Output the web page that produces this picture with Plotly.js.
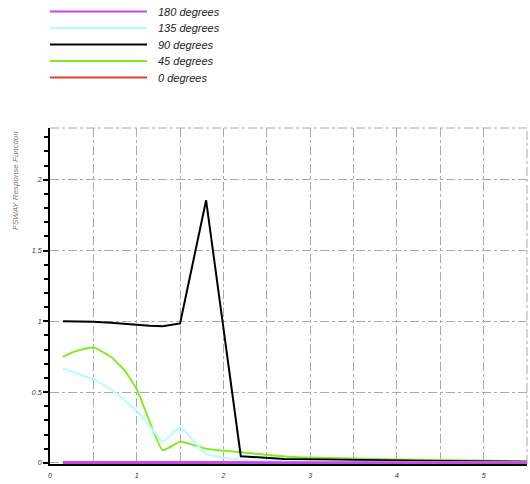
<!DOCTYPE html>
<html>
<head>
<meta charset="utf-8">
<script src="https://cdn.plot.ly/plotly-3.0.1.min.js"></script>
<style>html,body{margin:0;padding:0;background:#fff;}#chart{width:530px;height:484px;}</style>
</head>
<body>
<div id="chart"></div>
<script>
// Frequency points (x axis)
var freq = [0.15, 0.3, 0.5, 0.7, 0.85, 1.0, 1.15, 1.3, 1.5, 1.8, 2.2, 2.7, 3.5, 4.5, 5.5];
// Response per heading
var deg0   = [0, 0, 0, 0, 0, 0, 0, 0, 0, 0, 0, 0, 0, 0, 0];
var deg45  = [0.75, 0.79, 0.815, 0.75, 0.66, 0.52, 0.29, 0.09, 0.15, 0.10, 0.075, 0.045, 0.03, 0.02, 0.012];
var deg90  = [1.0, 0.999, 0.997, 0.99, 0.982, 0.975, 0.968, 0.965, 0.985, 1.855, 0.047, 0.028, 0.02, 0.013, 0.008];
var deg135 = [0.667, 0.635, 0.59, 0.52, 0.45, 0.368, 0.26, 0.15, 0.25, 0.063, 0.022, 0.012, 0.008, 0.005, 0.004];
var deg180 = [0, 0, 0, 0, 0, 0, 0, 0, 0, 0, 0, 0, 0, 0, 0];

var names  = ['0 degrees', '45 degrees', '90 degrees', '135 degrees', '180 degrees'];
var series = [deg0, deg45, deg90, deg135, deg180];
var colors = ['#e0402c', '#84ec22', '#000000', '#b0ffff', '#cc44ee'];

var xTickVals = [0, 1, 2, 3, 4, 5];
var yTickVals = [0, 0.5, 1, 1.5, 2];
var yTickText = ['0', '0.5', '1', '1.5', '2'];

var traces = series.map(function (s, i) {
  return {
    x: freq, y: s, type: 'scatter', mode: 'lines', name: names[i],
    line: { color: colors[i], width: 2, shape: 'spline', smoothing: 0.5 },
    showlegend: false, hoverinfo: 'skip'
  };
});
// black line is sharp
traces[2].line.shape = 'linear';
// lines at zero drawn thicker so they show over the axis line
traces[0].line.width = 3;
traces[4].line.width = 3;

var L = 50, R = 3, T = 128, B = 20, W = 530, H = 484;
var pw = W - L - R, ph = H - T - B;
function px2x(px) { return (px - L) / pw; }
function py2y(py) { return (H - B - py) / ph; }

var shapes = [
  { type: 'line', xref: 'paper', yref: 'paper', x0: 0, x1: 1, y0: 1, y1: 1,
    line: { color: '#aaaaaa', width: 1, dash: 'dashdot' }, layer: 'below' },
  { type: 'line', xref: 'paper', yref: 'paper', x0: 1, x1: 1, y0: 0, y1: 1,
    line: { color: '#aaaaaa', width: 1, dash: 'dashdot' }, layer: 'below' }
];
var annotations = [];
var legendRows = [11.5, 28, 44.5, 61, 77.5];
// legend: top row is 180 degrees, bottom is 0 degrees
for (var k = 0; k < 5; k++) {
  var idx = 4 - k;
  var yy = py2y(legendRows[k]);
  shapes.push({ type: 'line', xref: 'paper', yref: 'paper',
    x0: px2x(50), x1: px2x(147), y0: yy, y1: yy,
    line: { color: colors[idx], width: 2 } });
  annotations.push({ xref: 'paper', yref: 'paper', x: px2x(156), y: yy,
    xanchor: 'left', yanchor: 'middle', showarrow: false, text: names[idx],
    font: { family: 'Liberation Sans, Arial, sans-serif', size: 11, style: 'italic', color: '#222' } });
}
annotations.push({ xref: 'paper', yref: 'paper', x: px2x(15), y: py2y(181),
  xanchor: 'center', yanchor: 'middle', showarrow: false, textangle: -90,
  text: 'FSWAY Response Function',
  font: { family: 'Liberation Sans, Arial, sans-serif', size: 8, style: 'italic', color: '#808080' } });

var tickFont = { family: 'Liberation Sans, Arial, sans-serif', size: 7, style: 'italic', color: '#333' };

var layout = {
  width: W, height: H,
  margin: { l: L, r: R, t: T, b: B, pad: 0 },
  paper_bgcolor: '#ffffff', plot_bgcolor: '#ffffff',
  showlegend: false,
  xaxis: {
    range: [0, 5.5], dtick: 0.5,
    showgrid: true, gridcolor: '#aaaaaa', gridwidth: 1, griddash: 'dashdot',
    showline: true, linecolor: '#000', linewidth: 2, layer: 'below traces',
    ticks: '', showticklabels: false, zeroline: false, fixedrange: true
  },
  xaxis2: {
    overlaying: 'x', matches: 'x', range: [0, 5.5], anchor: 'y',
    tickmode: 'array', tickvals: xTickVals, ticktext: xTickVals.map(String),
    showgrid: false, showline: false, ticks: '', tickfont: tickFont, zeroline: false,
    side: 'bottom', ticklabelstandoff: 6
  },
  yaxis: {
    range: [-0.008, 2.366],
    tickmode: 'array', tickvals: yTickVals, ticktext: yTickText,
    showgrid: true, gridcolor: '#aaaaaa', gridwidth: 1, griddash: 'dashdot',
    showline: true, linecolor: '#000', linewidth: 2,
    ticks: 'outside', ticklen: 5, tickwidth: 2, tickcolor: '#000',
    minor: { dtick: 0.1, ticks: 'outside', ticklen: 4, tickwidth: 2, tickcolor: '#000', showgrid: false },
    tickfont: tickFont, zeroline: false, fixedrange: true, ticklabelstandoff: 0
  },
  shapes: shapes,
  annotations: annotations
};

// invisible trace to activate the label axis
traces.unshift({ x: [0], y: [0], xaxis: 'x2', yaxis: 'y', mode: 'markers',
  marker: { opacity: 0 }, showlegend: false, hoverinfo: 'skip', type: 'scatter' });

Plotly.newPlot('chart', traces, layout, { staticPlot: true, displayModeBar: false });
</script>
</body>
</html>
